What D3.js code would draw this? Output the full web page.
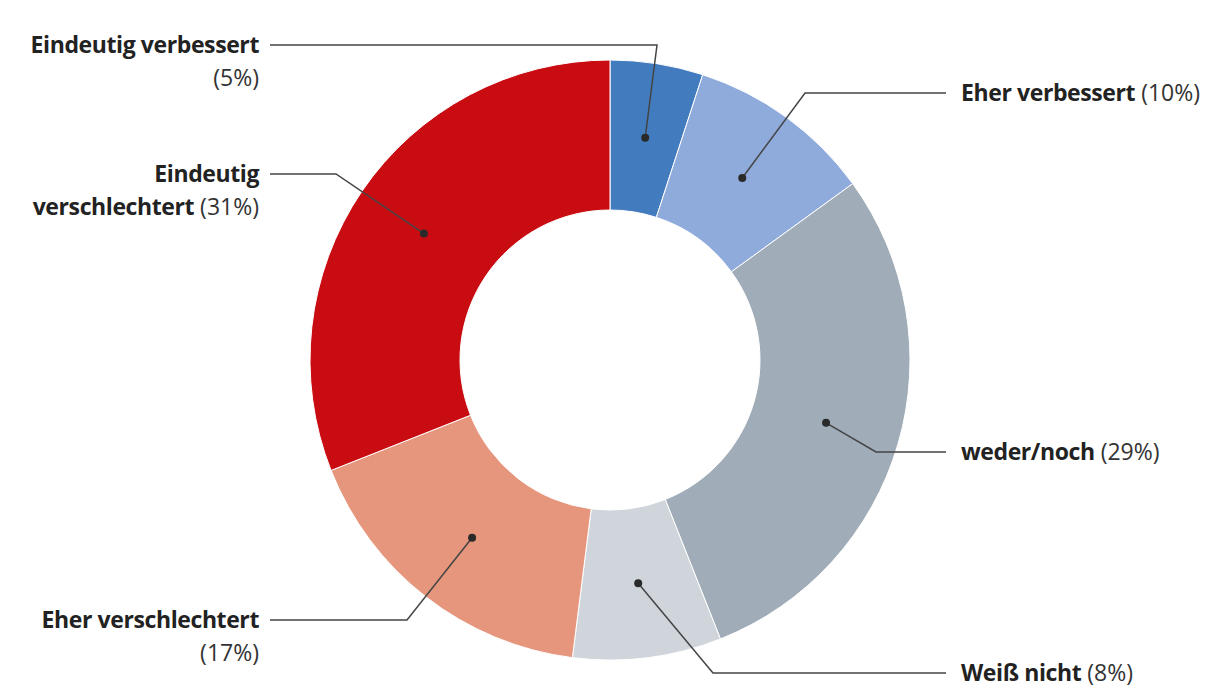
<!DOCTYPE html>
<html><head><meta charset="utf-8">
<script src="https://cdn.jsdelivr.net/npm/d3@7"></script>
<style>
body{margin:0;background:#fff;}
svg text{font-family:"Open Sans", Roboto, sans-serif;}
</style></head>
<body><svg id="c" width="1220" height="700"></svg>
<script>
const categories = ["Eindeutig verbessert","Eher verbessert","weder/noch","Weiß nicht","Eher verschlechtert","Eindeutig verschlechtert"];
const values = [5,10,29,8,17,31];
const colors = ["#437bbf","#8eabdb","#a0adb8","#d0d5dc","#e6967c","#c90c12"];
// label text lines: [bold part, regular part]
const labelLines = [
  [["Eindeutig verbessert",""],["","(5%)"]],
  [["Eher verbessert"," (10%)"]],
  [["weder/noch"," (29%)"]],
  [["Weiß nicht"," (8%)"]],
  [["Eher verschlechtert",""],["","(17%)"]],
  [["Eindeutig",""],["verschlechtert"," (31%)"]]
];
// layout: label side and y of first line
const labelSide = ["left","right","right","right","left","left"];
const labelY = [45,93,452,673,620,174];
const elbowX = [657,805,876,713,407,336];

const svg = d3.select("#c");
const cx=610, cy=360, R=300, r=150;
const g = svg.append("g").attr("transform",`translate(${cx},${cy})`);
const pie = d3.pie().sort(null).value(d=>d)(values);
const arc = d3.arc().innerRadius(r).outerRadius(R);
const mid = d3.arc().innerRadius(225).outerRadius(225);
g.selectAll("path").data(pie).join("path")
  .attr("d",arc).attr("fill",(d,i)=>colors[i])
  .attr("stroke","#fff").attr("stroke-width",1);

const leftX=259, rightX=961;
pie.forEach((d,i)=>{
  const [px,py] = mid.centroid(d);
  const dx = cx+px, dy = cy+py;
  const side = labelSide[i];
  const endX = side==="left" ? 270 : 946;
  svg.append("polyline")
    .attr("points",`${dx},${dy} ${elbowX[i]},${labelY[i]} ${endX},${labelY[i]}`)
    .attr("fill","none").attr("stroke","#444").attr("stroke-width",1.5);
  svg.append("circle").attr("cx",dx).attr("cy",dy).attr("r",4).attr("fill","#2a2a2a");
  labelLines[i].forEach((ln,j)=>{
    const t = svg.append("text")
      .attr("x", side==="left"?leftX:rightX)
      .attr("y", labelY[i]+j*33)
      .attr("dy","0.35em")
      .attr("text-anchor", side==="left"?"end":"start")
      .attr("font-size",23);
    if(ln[0]) t.append("tspan").attr("font-weight",700).attr("fill","#222").attr("letter-spacing","-0.4").text(ln[0]);
    if(ln[1]) t.append("tspan").attr("font-weight",400).attr("fill","#333").text(ln[1]);
  });
});
</script></body></html>
